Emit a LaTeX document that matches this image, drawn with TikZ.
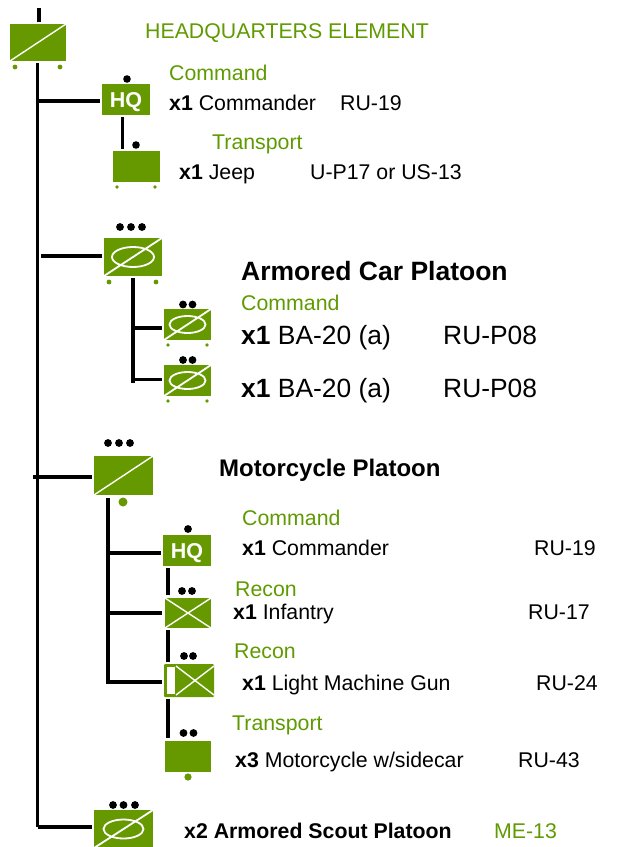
\documentclass[tikz,border=0pt]{standalone}
\usepackage{fontspec}
\setmainfont{Liberation Sans}
\definecolor{armygreen}{HTML}{669900}
\definecolor{labelgreen}{HTML}{5F9A00}
\begin{document}
\begin{tikzpicture}[
  x=1pt, y=-1pt,
  unit/.style={rectangle, fill=armygreen, inner sep=0pt, text=white, font=\fontsize{21.5}{21.5}\selectfont\bfseries},
  bigunit/.style={unit, minimum width=58pt, minimum height=38pt},
  smallunit/.style={unit, minimum width=47pt, minimum height=31pt},
  hqunit/.style={unit, minimum width=48pt, minimum height=31pt, text height=20pt},
  slash/.style={path picture={\draw[white, line width=1.4pt] (path picture bounding box.south west) -- (path picture bounding box.north east);}},
  armor/.style={path picture={\draw[white, line width=1.8pt] (path picture bounding box.south west) -- (path picture bounding box.north east) (path picture bounding box.center) ellipse (#1);}},
  cross/.style={path picture={\draw[white, line width=1.4pt] (path picture bounding box.south west) -- (path picture bounding box.north east) (path picture bounding box.north west) -- (path picture bounding box.south east);}},
  trunk/.style={line width=3.2pt, black},
  link/.style={line width=3.8pt, black},
  pip/.style={fill=black},
  wheel/.style={fill=armygreen},
  txt/.style={anchor=base west, inner sep=0pt, font=\fontsize{21.3}{21.3}\selectfont},
  head/.style={txt, text=labelgreen},
  large/.style={txt, font=\fontsize{26.4}{26.4}\selectfont}
]
\useasboundingbox (0,0) rectangle (639,847);

% Headquarters element
\node[unit, slash, minimum width=56pt, minimum height=37pt] (hqe) at (38,42.5) {};
\node[hqunit] (hq) at (126,99.5) {HQ};
\node[smallunit] (jeep) at (136.5,166.5) {};
\coordinate (top) at (39,8);
\coordinate (bottom) at (37.5,827);
\draw[link] (top) -- (39,22);
\draw[trunk] (37.5,63) -- (bottom);
\draw[link] (37.5,101) -- (100,101);
\draw[link] (122.5,117) -- (122.5,149);
\foreach \x/\y/\r in {127/79/3.8, 136/145/3.8} \fill[pip] (\x,\y) circle (\r);
\foreach \x/\y/\r in {15/67/2.4, 60/67/2.4, 117/187/1.9, 155/187/1.9} \fill[wheel] (\x,\y) circle (\r);
\node[head] (hqetxt) at (145,38) {HEADQUARTERS ELEMENT};
\node[head] (cmdtxt) at (169,80) {Command};
\node[txt] (cmdrow) at (169,110) {\textbf{x1} Commander};
\node[txt] (cmdradio) at (340,110) {RU-19};
\node[head] (trntxt) at (212,149) {Transport};
\node[txt] (jeeprow) at (179,179) {\textbf{x1} Jeep};
\node[txt] (jeepradio) at (310,179) {U-P17 or US-13};

% Armored car platoon
\node[bigunit, armor={21pt and 10pt}] (acp) at (133,257) {};
\node[smallunit, armor={18pt and 8.5pt}] (ba1) at (187.5,324.5) {};
\node[smallunit, armor={18pt and 8.5pt}] (ba2) at (187.5,380.5) {};
\draw[link] (41,256) -- (102,256);
\draw[link] (133,278) -- (133,383);
\draw[link] (131,328) -- (162,328);
\draw[link] (131,379.5) -- (162,379.5);
\foreach \x/\y in {120/227, 131/227, 142/227, 183/304.5, 192.5/304.5, 183/360, 192.5/360} \fill[pip] (\x,\y) circle (3.9);
\foreach \x/\y/\r in {109/282/2.4, 156/282/2.4, 168/345/1.9, 207/345/1.9, 168/401/1.9, 207/401/1.9} \fill[wheel] (\x,\y) circle (\r);
\node[large, font=\fontsize{26.5}{26.5}\selectfont\bfseries] (acptxt) at (241,280) {Armored Car Platoon};
\node[head] (ba0txt) at (241,310) {Command};
\node[large] (ba1row) at (241,344) {\textbf{x1} BA-20 (a)};
\node[large] (ba1radio) at (443,344) {RU-P08};
\node[large] (ba2row) at (241,397) {\textbf{x1} BA-20 (a)};
\node[large] (ba2radio) at (443,397) {RU-P08};

% Motorcycle platoon
\node[bigunit, slash, minimum width=59pt, minimum height=39pt] (mcp) at (123.5,475.5) {};
\node[hqunit] (mhq) at (187,550.5) {HQ};
\node[smallunit, cross, minimum width=46pt, minimum height=30pt] (inf) at (188,613) {};
\node[unit, rounded corners=1pt, minimum width=50pt, minimum height=33pt] (lmg) at (189,680.5) {};
\node[smallunit, minimum width=46pt] (cycle) at (188,756.5) {};
\fill[white] (166.5,667) rectangle (174.5,694);
\draw[white, line width=1.4pt] (176,695) -- (214,666) (176,666) -- (214,695);
\draw[link] (33,477) -- (92,477);
\draw[link] (108,498) -- (108,684);
\draw[link] (108,553) -- (161,553);
\draw[link] (108,613) -- (162,613);
\draw[link] (108,682) -- (162,682);
\draw[link] (168,568) -- (168,595);
\draw[link] (168,630) -- (168,662);
\draw[link] (168,699) -- (168,738);
\foreach \x/\y in {108/443, 119/443, 130/443, 188/529, 182/591, 192/591, 184/656, 193/656, 183.5/733, 193.5/733} \fill[pip] (\x,\y) circle (3.9);
\foreach \x/\y/\r in {123/502/4.5, 188/777/3.6} \fill[wheel] (\x,\y) circle (\r);
\node[txt, font=\fontsize{24}{24}\selectfont\bfseries] (mcptxt) at (219,476) {Motorcycle Platoon};
\node[head] (mcmdtxt) at (242,525) {Command};
\node[txt] (mcmdrow) at (242,555) {\textbf{x1} Commander};
\node[txt] (mcmdradio) at (534,555) {RU-19};
\node[head] (rectxt) at (235,596) {Recon};
\node[txt] (infrow) at (233,619) {\textbf{x1} Infantry};
\node[txt] (infradio) at (528,619) {RU-17};
\node[head] (rec2txt) at (234,658) {Recon};
\node[txt] (lmgrow) at (242,690) {\textbf{x1} Light Machine Gun};
\node[txt] (lmgradio) at (536,690) {RU-24};
\node[head] (trn2txt) at (232,730) {Transport};
\node[txt] (cyclerow) at (235,767) {\textbf{x3} Motorcycle w/sidecar};
\node[txt] (cycleradio) at (518,767) {RU-43};

% Armored scout platoon
\node[bigunit, armor={20pt and 9.5pt}, minimum width=59pt] (scout) at (123.5,829) {};
\draw[link] (bottom) -- (92,827);
\foreach \x in {113, 123.5, 135} \fill[pip] (\x,805) circle (3.9);
\node[txt, font=\fontsize{21.3}{21.3}\selectfont\bfseries] (scouttxt) at (184,838) {x2 Armored Scout Platoon};
\node[head] (scoutradio) at (494,838) {ME-13};
\end{tikzpicture}
\end{document}
